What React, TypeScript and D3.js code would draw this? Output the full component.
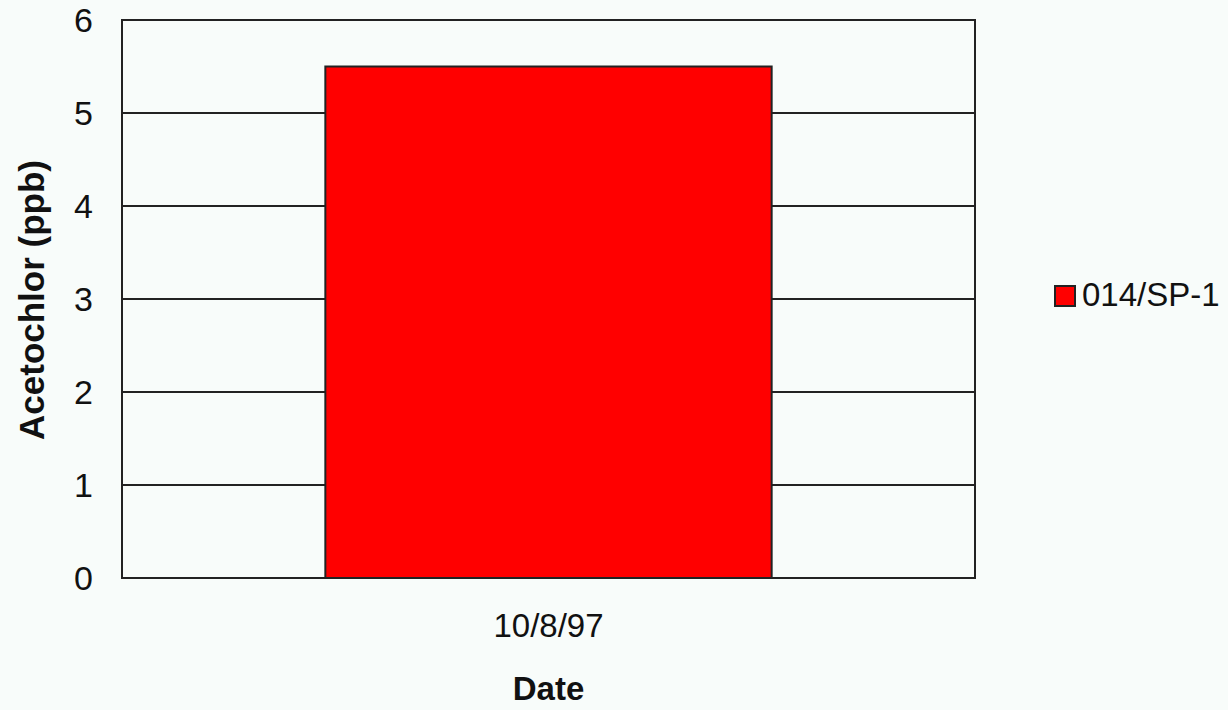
import { useEffect, useRef } from 'react';
import * as d3 from 'd3';

const categories = ['10/8/97'];
const seriesName = '014/SP-1';
const values = [5.5];
const yTicks = [0, 1, 2, 3, 4, 5, 6];

export default function App() {
  const svgRef = useRef<SVGSVGElement>(null);

  useEffect(() => {
    if (!svgRef.current) return;
    d3.select(svgRef.current).selectAll('*').remove();

    const width = 1228;
    const height = 710;
    const margin = { top: 20, right: 253, bottom: 132, left: 122 };
    const innerWidth = width - margin.left - margin.right;
    const innerHeight = height - margin.top - margin.bottom;
    const font = 'Arial, "Liberation Sans", sans-serif';

    const svg = d3.select(svgRef.current);
    svg.append('rect').attr('width', width).attr('height', height).attr('fill', '#f8fcfa');

    const g = svg.append('g').attr('transform', `translate(${margin.left},${margin.top})`);

    const x = d3.scaleBand().domain(categories).range([0, innerWidth]).paddingInner(0.313).paddingOuter(0.313);
    const y = d3.scaleLinear().domain([0, 6]).range([innerHeight, 0]);

    // 网格线
    g.selectAll('.grid')
      .data(yTicks.slice(1, -1))
      .join('line')
      .attr('x1', 0)
      .attr('x2', innerWidth)
      .attr('y1', (d) => y(d))
      .attr('y2', (d) => y(d))
      .attr('stroke', '#222')
      .attr('stroke-width', 2);

    // 柱子
    g.selectAll('.bar')
      .data(values)
      .join('rect')
      .attr('x', (_, i) => x(categories[i])!)
      .attr('y', (d) => y(d))
      .attr('width', x.bandwidth())
      .attr('height', (d) => innerHeight - y(d))
      .attr('fill', '#ff0000')
      .attr('stroke', '#222')
      .attr('stroke-width', 2);

    // 边框
    g.append('rect')
      .attr('width', innerWidth)
      .attr('height', innerHeight)
      .attr('fill', 'none')
      .attr('stroke', '#222')
      .attr('stroke-width', 2);

    // y轴刻度
    g.selectAll('.ytick')
      .data(yTicks)
      .join('text')
      .attr('x', -29)
      .attr('y', (d) => y(d))
      .attr('dy', '0.36em')
      .attr('text-anchor', 'end')
      .style('font-family', font)
      .style('font-size', '34px')
      .attr('fill', '#111')
      .text((d) => d);

    // x轴刻度
    g.selectAll('.xtick')
      .data(categories)
      .join('text')
      .attr('x', (d) => x(d)! + x.bandwidth() / 2)
      .attr('y', innerHeight + 59)
      .attr('text-anchor', 'middle')
      .style('font-family', font)
      .style('font-size', '33px')
      .attr('fill', '#111')
      .text((d) => d);

    // 轴标题
    g.append('text')
      .attr('x', innerWidth / 2)
      .attr('y', innerHeight + 122)
      .attr('text-anchor', 'middle')
      .style('font-family', font)
      .style('font-size', '33px')
      .style('font-weight', 'bold')
      .attr('fill', '#111')
      .text('Date');

    g.append('text')
      .attr('transform', `translate(${44 - margin.left},${innerHeight / 2 + 1}) rotate(-90)`)
      .attr('text-anchor', 'middle')
      .style('font-family', font)
      .style('font-size', '35px')
      .style('font-weight', 'bold')
      .attr('fill', '#111')
      .text('Acetochlor (ppb)');

    // 图例
    const legend = svg.append('g').attr('transform', 'translate(1055, 286)');
    legend
      .append('rect')
      .attr('width', 20)
      .attr('height', 20)
      .attr('fill', '#ff0000')
      .attr('stroke', '#222')
      .attr('stroke-width', 2);
    legend
      .append('text')
      .attr('x', 27)
      .attr('y', 20)
      .style('font-family', font)
      .style('font-size', '33px')
      .attr('fill', '#111')
      .text(seriesName);
  }, []);

  return (
    <svg
      ref={svgRef}
      width={1228}
      height={710}
      style={{ position: 'absolute', left: 0, top: 0, display: 'block' }}
    />
  );
}
